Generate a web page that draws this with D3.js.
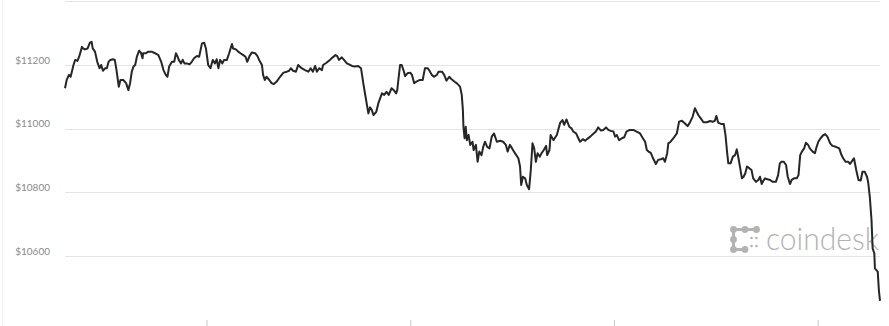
<!DOCTYPE html>
<html>
<head>
<meta charset="utf-8">
<script src="https://cdn.jsdelivr.net/npm/d3@7"></script>
<style>
  html, body { margin: 0; padding: 0; background: #fff; }
  svg { display: block; }
</style>
</head>
<body>
<svg id="chart" width="889" height="326"></svg>
<script>
// ---- data ----
// minutes after the series start (24h window, start 07:50 UTC)
const minutes = [
  0,3,7,10,15,18,22,25,30,32,35,40,44,47,49,53,57,61,64,67,71,74,77,80,85,88,91,95,98,103,108,112,115,118,121,124,127,131,134,137,138,143,147,153,159,165,170,174,178,181,184,189,193,196,199,201,205,208,211,215,220,224,228,233,237,242,246,249,253,257,261,265,268,271,274,278,281,286,290,295,297,302,306,310,315,319,322,326,330,336,340,343,348,350,353,356,361,365,369,374,380,386,392,396,399,403,408,412,
  418,424,430,434,438,442,445,449,454,456,462,468,473,478,481,484,489,493,498,502,507,512,518,523,527,532,536,539,542,545,550,554,560,564,568,572,577,581,585,587,592,595,598,601,605,610,613,617,621,627,632,636,641,644,648,652,657,660,666,670,674,679,683,688,692,698,701,703,
  704,706,708,710,713,716,720,722,726,729,732,736,739,742,746,750,754,758,763,769,774,779,782,786,790,795,801,804,806,809,813,816,820,823,826,829,832,835,839,842,846,850,852,856,858,863,869,875,879,882,886,891,895,898,903,907,910,915,919,923,928,
  933,938,942,947,951,956,960,964,969,972,975,979,984,988,992,998,1004,1010,1016,1021,1025,1028,1031,1035,1039,1044,1048,1053,1057,1060,1064,1066,1070,1075,1081,1085,1090,1095,1100,1104,1109,1113,1116,1119,1123,1128,1134,1140,1144,1148,1151,1154,1159,1164,1167,1170,1172,1176,1180,1184,1187,1190,1193,1196,1199,1202,1205,1209,1213,1216,1221,1225,1228,1231,1234,1237,1241,1246,1250,1256,1260,1263,1266,1270,1274,1277,1281,1284,1288,1293,1296,1299,1302,1306,1309,1313,1316,1321,1325,1328,1331,1335,1340,1343,1347,1352,1356,1362,1368,1372,1375,1379,1384,1387,1392,1394,1398,1402,1406,1409,1413,1417,1419,1422,1425,1427,1430,1431,1436,1438,1440
];
// BTC price in USD
const prices = [
  11127,11153,11169,11163,11200,11216,11213,11226,11257,11252,11249,11252,11270,11273,11252,11242,11210,11190,11200,11182,11190,11190,11210,11216,11218,11216,11184,11132,11153,11153,11143,11121,11143,11179,11195,11200,11226,11245,11239,11221,11237,11237,11242,11242,11237,11231,11210,11184,11169,11163,11195,11210,11210,11237,11226,11216,11205,11216,11205,11205,11202,11210,11221,11228,11226,11268,11270,11252,11200,11190,11216,11205,11218,11190,11216,11205,11216,11216,11237,11266,11252,11249,11242,11237,11231,11226,11210,11228,11239,11237,11228,11216,11200,11169,11153,11163,11153,11143,11140,11148,11163,11176,11179,11182,11190,11182,11179,11200,
  11190,11184,11179,11190,11179,11197,11179,11190,11184,11200,11207,11216,11224,11231,11228,11216,11224,11216,11205,11202,11197,11195,11197,11190,11143,11090,11048,11067,11059,11043,11053,11082,11111,11106,11116,11106,11127,11121,11111,11121,11200,11200,11184,11165,11174,11176,11169,11143,11148,11153,11153,11190,11190,11182,11169,11163,11169,11179,11179,11169,11151,11163,11155,11148,11143,11132,11106,11059,
  11006,10970,11006,10964,10980,10949,10959,10933,10949,10896,10928,10917,10943,10959,10943,10938,10975,10985,10959,10962,10959,10949,10928,10949,10938,10923,10907,10881,10823,10849,10844,10823,10810,10870,10954,10938,10896,10923,10912,10923,10933,10946,10917,10933,10980,10964,10980,11019,11027,11012,11029,11006,11001,10991,10985,10970,10959,10967,10962,10968,10975,
  10983,10991,11004,10994,10996,11004,10996,10993,10991,10975,10980,10964,10970,10973,10991,10996,10996,10991,10985,10970,10959,10933,10928,10924,10907,10889,10902,10904,10907,10896,10923,10954,10959,10970,10985,11022,11025,11017,11008,11019,11038,11064,11053,11043,11033,11020,11020,11024,11022,11024,11040,11019,11015,11015,10980,10923,10891,10891,10912,10917,10935,10907,10876,10844,10849,10860,10881,10876,10870,10844,10833,10839,10849,10826,10837,10844,10841,10839,10833,10833,10854,10891,10896,10896,10886,10849,10826,10839,10844,10844,10854,10917,10928,10938,10956,10949,10938,10928,10923,10943,10959,10970,10980,10983,10975,10954,10946,10943,10938,10917,10907,10896,10896,10889,10902,10907,10870,10839,10837,10865,10865,10849,10833,10786,10713,10624,10608,10561,10551,10493,10459
];
const yTickValues = [10600, 10800, 11000, 11200];
const gridValues = [10600, 10800, 11000, 11200, 11400];
const yTickLabels = ["$10600", "$10800", "$11000", "$11200"];
const startTime = Date.UTC(2019, 6, 27, 7, 50);
const brandText = "coindesk";

// ---- chart ----
const W = 889, H = 326;
const svg = d3.select("#chart");
const data = minutes.map((m, i) => ({ t: new Date(startTime + m * 60000), v: prices[i] }));

const x = d3.scaleUtc()
  .domain([new Date(startTime), new Date(startTime + 1440 * 60000)])
  .range([65, 880]);
const y = d3.scaleLinear().domain([10600, 11200]).range([256, 65]);

// faint left border
svg.append("line")
  .attr("x1", 2.5).attr("x2", 2.5).attr("y1", 0).attr("y2", H)
  .attr("stroke", "#f0f0f0").attr("stroke-width", 1);

// gridlines
svg.append("g").selectAll("line").data(gridValues).join("line")
  .attr("x1", 65).attr("x2", 880)
  .attr("y1", d => Math.round(y(d)) + 0.5)
  .attr("y2", d => Math.round(y(d)) + 0.5)
  .attr("stroke", "#e4e4e4").attr("stroke-width", 1);

// y labels
svg.append("g").selectAll("text").data(yTickValues).join("text")
  .attr("x", 50)
  .attr("y", d => y(d) - 1.5)
  .attr("text-anchor", "end")
  .attr("font-family", "Lato, 'Open Sans', sans-serif")
  .attr("font-size", 10)
  .attr("fill", "#8a8a8a")
  .text((d, i) => yTickLabels[i]);

// x axis ticks (labels fall below the visible area)
const xAxis = d3.axisBottom(x)
  .ticks(d3.utcHour.every(6))
  .tickSize(6)
  .tickFormat("");
const gx = svg.append("g").attr("transform", "translate(0,320)").call(xAxis);
gx.select(".domain").remove();
gx.selectAll(".tick line").attr("stroke", "#c8c8c8");

// watermark logo
const logo = svg.append("g").attr("fill", "#b3b3b3");
const dotsBig = [[733.5,229.5],[745,229.5],[756.5,229.5],[733.5,239.5],[733.5,249.5],[745,249.5]];
logo.append("path")
  .attr("d", "M733.5,229.5 H756.5 M733.5,229.5 V249.5 H745")
  .attr("stroke", "#b3b3b3").attr("stroke-width", 3).attr("fill", "none");
logo.selectAll("circle.big").data(dotsBig).join("circle")
  .attr("class", "big").attr("cx", d => d[0]).attr("cy", d => d[1]).attr("r", 3.4);
const dotsSmall = [[751.5,238],[751.5,246],[756.5,238],[756.5,246]];
logo.selectAll("circle.small").data(dotsSmall).join("circle")
  .attr("class", "small").attr("cx", d => d[0]).attr("cy", d => d[1]).attr("r", 1.3);
logo.append("text")
  .attr("x", 766).attr("y", 249.5)
  .attr("font-family", "Lato, 'Open Sans', sans-serif")
  .attr("font-weight", 300)
  .attr("font-size", 31)
  .attr("textLength", 113)
  .attr("lengthAdjust", "spacingAndGlyphs")
  .text(brandText);

// price line
svg.append("path")
  .datum(data)
  .attr("fill", "none")
  .attr("stroke", "#262626")
  .attr("stroke-width", 2)
  .attr("stroke-linejoin", "round")
  .attr("d", d3.line().x(d => x(d.t)).y(d => y(d.v)));
</script>
</body>
</html>
